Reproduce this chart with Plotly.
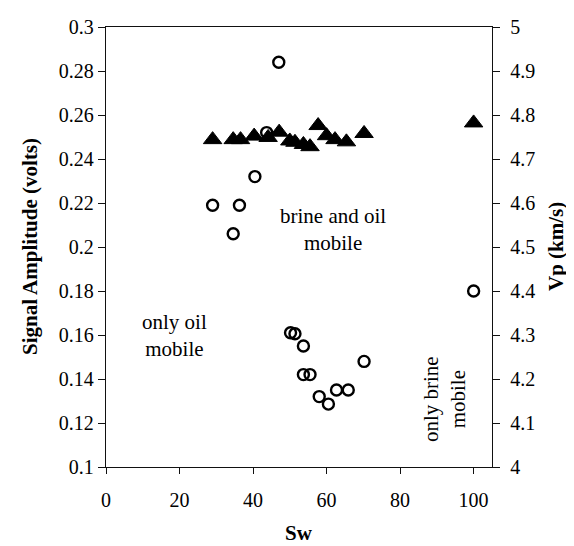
import plotly.graph_objects as go

# Vp (km/s) vs Sw  -- filled triangles, right axis
vp_sw = [29.0, 34.6, 36.6, 40.3, 44.1, 47.1, 50.0, 51.4, 53.7, 55.5, 57.7, 60.0, 62.3, 65.4, 70.2, 100.0]
vp_val = [4.744, 4.744, 4.744, 4.752, 4.749, 4.761, 4.741, 4.738, 4.733, 4.728, 4.776, 4.753, 4.744, 4.739, 4.758, 4.782]

# Signal amplitude (volts) vs Sw -- open circles, left axis
amp_sw = [47.0, 43.7, 40.5, 29.0, 36.3, 34.6, 50.2, 51.4, 53.7, 53.7, 55.5, 58.0, 60.5, 62.7, 65.9, 70.2, 100.0]
amp_val = [0.284, 0.252, 0.232, 0.219, 0.219, 0.206, 0.161, 0.1606, 0.155, 0.142, 0.142, 0.132, 0.1286, 0.135, 0.135, 0.148, 0.180]

x_ticks = [0, 20, 40, 60, 80, 100]
x_ticklabels = ["0", "20", "40", "60", "80", "100"]
amp_ticks = [0.1, 0.12, 0.14, 0.16, 0.18, 0.2, 0.22, 0.24, 0.26, 0.28, 0.3]
amp_ticklabels = ["0.1", "0.12", "0.14", "0.16", "0.18", "0.2", "0.22", "0.24", "0.26", "0.28", "0.3"]
vp_ticks = [4.0, 4.1, 4.2, 4.3, 4.4, 4.5, 4.6, 4.7, 4.8, 4.9, 5.0]
vp_ticklabels = ["4", "4.1", "4.2", "4.3", "4.4", "4.5", "4.6", "4.7", "4.8", "4.9", "5"]

FONT = "Liberation Serif, Times New Roman, serif"
AX = "#111111"

fig = go.Figure()
fig.add_trace(go.Scatter(
    x=amp_sw, y=amp_val, mode="markers", yaxis="y", name="Signal Amplitude",
    marker=dict(symbol="circle-open", size=11, color="black", line=dict(width=2.4, color="black")),
    showlegend=False,
))
fig.add_trace(go.Scatter(
    x=vp_sw, y=vp_val, mode="markers", yaxis="y2", name="Vp",
    marker=dict(symbol="triangle-up", size=16, color="black", line=dict(width=1, color="black")),
    showlegend=False,
))

tickfont = dict(family=FONT, size=20, color="black")

fig.update_layout(
    width=574, height=546,
    margin=dict(l=98, r=90, t=8, b=87, pad=0),
    paper_bgcolor="white", plot_bgcolor="white",
    font=dict(family=FONT, color="black"),
    xaxis=dict(
        range=[0, 105], tickvals=x_ticks, ticktext=x_ticklabels,
        ticks="outside", ticklen=6, tickwidth=1.2, tickcolor=AX,
        showline=True, linecolor=AX, linewidth=1.3, mirror=True,
        showgrid=False, zeroline=False, tickfont=tickfont,
        ticklabelstandoff=9, ticklabeloverflow="allow",
    ),
    yaxis=dict(
        range=[0.1, 0.3], tickvals=amp_ticks, ticktext=amp_ticklabels,
        ticks="outside", ticklen=7, tickwidth=1.2, tickcolor=AX,
        showline=True, linecolor=AX, linewidth=1.3,
        showgrid=False, zeroline=False, tickfont=tickfont,
        ticklabeloverflow="allow",
    ),
    yaxis2=dict(
        range=[4.0, 5.0], tickvals=vp_ticks, ticktext=vp_ticklabels,
        overlaying="y", side="right", anchor="x",
        ticks="outside", ticklen=7, tickwidth=1.2, tickcolor=AX,
        showline=True, linecolor=AX, linewidth=1.3,
        showgrid=False, zeroline=False, tickfont=tickfont,
        ticklabelstandoff=6, ticklabeloverflow="allow",
    ),
    yaxis3=dict(
        range=[4.0, 5.0], tickvals=vp_ticks,
        overlaying="y", side="right", anchor="x",
        ticks="inside", ticklen=7, tickwidth=1.2, tickcolor=AX,
        showticklabels=False, showline=False,
        showgrid=False, zeroline=False,
    ),
)

title_font = dict(family=FONT, size=21, color="black", weight="bold")
text_font = dict(family=FONT, size=21, color="black")

annotations = [
    dict(text="Signal Amplitude (volts)", xref="paper", yref="paper", x=0, y=0.5,
         xshift=-76, textangle=-90, showarrow=False, font=title_font,
         xanchor="center", yanchor="middle"),
    dict(text="Vp (km/s)", xref="paper", yref="paper", x=1, y=0.5,
         xshift=64, textangle=-90, showarrow=False, font=title_font,
         xanchor="center", yanchor="middle"),
    dict(text="Sw", xref="paper", yref="paper", x=0.5, y=0,
         yshift=-66, showarrow=False, font=title_font,
         xanchor="center", yanchor="middle"),
    dict(text="brine and oil<br>mobile", xref="x", yref="y", x=61.7, y=0.2078,
         showarrow=False, font=text_font, xanchor="center", yanchor="middle"),
    dict(text="only oil<br>mobile", xref="x", yref="y", x=18.5, y=0.160,
         showarrow=False, font=text_font, xanchor="center", yanchor="middle"),
    dict(text="only brine<br>mobile", xref="x", yref="y", x=92.1, y=0.1307,
         textangle=-90, showarrow=False, font=text_font, xanchor="center", yanchor="middle"),
]
fig.update_layout(annotations=annotations)

fig.write_html("out.html")
